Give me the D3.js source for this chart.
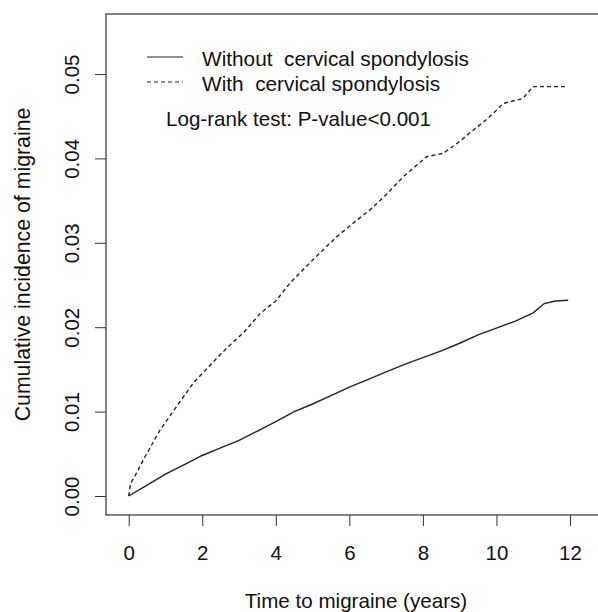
<!DOCTYPE html>
<meta charset="utf-8">
<style>
  body { margin: 0; background: #fff; }
  svg text { font-family: "Liberation Sans", Arial, sans-serif; fill: #111; }
  .tick line { stroke: #333; }
</style>
<body>
<script src="https://cdnjs.cloudflare.com/ajax/libs/d3/7.8.5/d3.min.js"></script>
<script>
// cumulative incidence
var timesWithout = [0, 0.5, 1.0, 1.5, 2.0, 2.5, 3.0, 3.5, 4.0, 4.5, 5.0, 5.5, 6.0, 6.5, 7.0, 7.5, 8.0, 8.5, 9.0, 9.5, 10.0, 10.5, 11.0, 11.3, 11.6, 11.95];
var valuesWithout = [0, 0.0013, 0.0026, 0.0037, 0.0048, 0.0057, 0.0066, 0.0077, 0.0088, 0.0100, 0.0109, 0.0119, 0.0129, 0.0138, 0.0147, 0.0156, 0.0164, 0.0172, 0.0181, 0.0191, 0.0199, 0.0207, 0.0217, 0.0228, 0.0231, 0.0232];

var timesWith = [0, 0.05, 0.15, 0.4, 0.85, 1.3, 1.76, 2.21, 2.66, 3.11, 3.57, 4.02, 4.38, 4.74, 5.2, 5.65, 6.1, 6.56, 7.0, 7.46, 8.1, 8.55, 9.0, 9.27, 9.7, 10.0, 10.18, 10.72, 10.99, 11.86];
var valuesWith = [0, 0.0015, 0.0022, 0.0043, 0.0078, 0.0106, 0.0134, 0.0155, 0.0175, 0.0193, 0.0216, 0.0232, 0.0252, 0.0268, 0.0288, 0.0307, 0.0323, 0.0339, 0.0357, 0.0378, 0.0402, 0.0406, 0.0420, 0.0430, 0.0445, 0.0457, 0.0465, 0.0471, 0.0485, 0.0485];

var xTicks = [0, 2, 4, 6, 8, 10, 12];
var yTicks = [0, 0.01, 0.02, 0.03, 0.04, 0.05];
var legendLabels = ["Without  cervical spondylosis", "With  cervical spondylosis"];
var testLabel = "Log-rank test: P-value<0.001";

var width = 598, height = 612;
var box = {left: 106, top: 14, right: 606, bottom: 515};

var svg = d3.select("body").append("svg")
    .attr("width", width)
    .attr("height", height);

// x: 0 -> 128.7, 12 -> 570 ; y: 0 -> 496, 0.05 -> 74
var x = d3.scaleLinear().domain([0, 12]).range([128.7, 570]);
var y = d3.scaleLinear().domain([0, 0.05]).range([496, 74]);

// x axis
var xAxis = svg.append("g")
    .attr("transform", "translate(0," + box.bottom + ")")
    .call(d3.axisBottom(x).tickValues(xTicks).tickFormat(d3.format("d"))
      .tickSize(11).tickSizeOuter(0).tickPadding(0));
xAxis.select(".domain").remove();
xAxis.selectAll("text")
    .attr("dy", null)
    .attr("y", 45)
    .style("font-size", "20.5px")
    .style("fill", "#111");

// y axis
var yAxis = svg.append("g")
    .attr("transform", "translate(" + box.left + ",0)")
    .call(d3.axisLeft(y).tickValues(yTicks).tickFormat(d3.format(".2f"))
      .tickSize(11).tickSizeOuter(0));
yAxis.select(".domain").remove();
yAxis.selectAll(".tick text")
    .attr("x", null).attr("dy", null)
    .attr("transform", "translate(-27,0) rotate(-90)")
    .attr("text-anchor", "middle")
    .style("font-size", "20.5px")
    .style("fill", "#111");

// box
svg.append("rect")
    .attr("x", box.left)
    .attr("y", box.top)
    .attr("width", box.right - box.left)
    .attr("height", box.bottom - box.top)
    .attr("fill", "none")
    .attr("stroke", "#333")
    .attr("stroke-width", 1.2);

// curves
var line = d3.line()
    .x(function(d) { return x(d[0]); })
    .y(function(d) { return y(d[1]); });

svg.append("path")
    .datum(d3.zip(timesWithout, valuesWithout))
    .attr("d", line)
    .attr("fill", "none")
    .attr("stroke", "#222")
    .attr("stroke-width", 1.4);

svg.append("path")
    .datum(d3.zip(timesWith, valuesWith))
    .attr("d", line)
    .attr("fill", "none")
    .attr("stroke", "#222")
    .attr("stroke-width", 1.4)
    .attr("stroke-dasharray", "4,3");

// legend
var legend = svg.append("g");
legendLabels.forEach(function(label, i) {
  legend.append("line")
      .attr("x1", 147).attr("x2", 183)
      .attr("y1", 57 + i * 25).attr("y2", 57 + i * 25)
      .attr("stroke", "#222")
      .attr("stroke-width", 1.2)
      .attr("stroke-dasharray", i == 1 ? "4,3" : null);
  legend.append("text")
      .attr("x", 202)
      .attr("y", 65.5 + i * 25)
      .style("font-size", "20.8px")
      .style("white-space", "pre")
      .attr("xml:space", "preserve")
      .text(label);
});
legend.append("text")
    .attr("x", 166)
    .attr("y", 125.5)
    .style("font-size", "20.6px")
    .text(testLabel);

// axis titles
svg.append("text")
    .attr("x", (box.left + box.right) / 2)
    .attr("y", 608)
    .attr("text-anchor", "middle")
    .style("font-size", "20.6px")
    .text("Time to migraine (years)");

svg.append("text")
    .attr("transform", "translate(29.5," + (box.top + box.bottom) / 2 + ") rotate(-90)")
    .attr("text-anchor", "middle")
    .style("font-size", "21.3px")
    .text("Cumulative incidence of migraine");
</script>
</body>
